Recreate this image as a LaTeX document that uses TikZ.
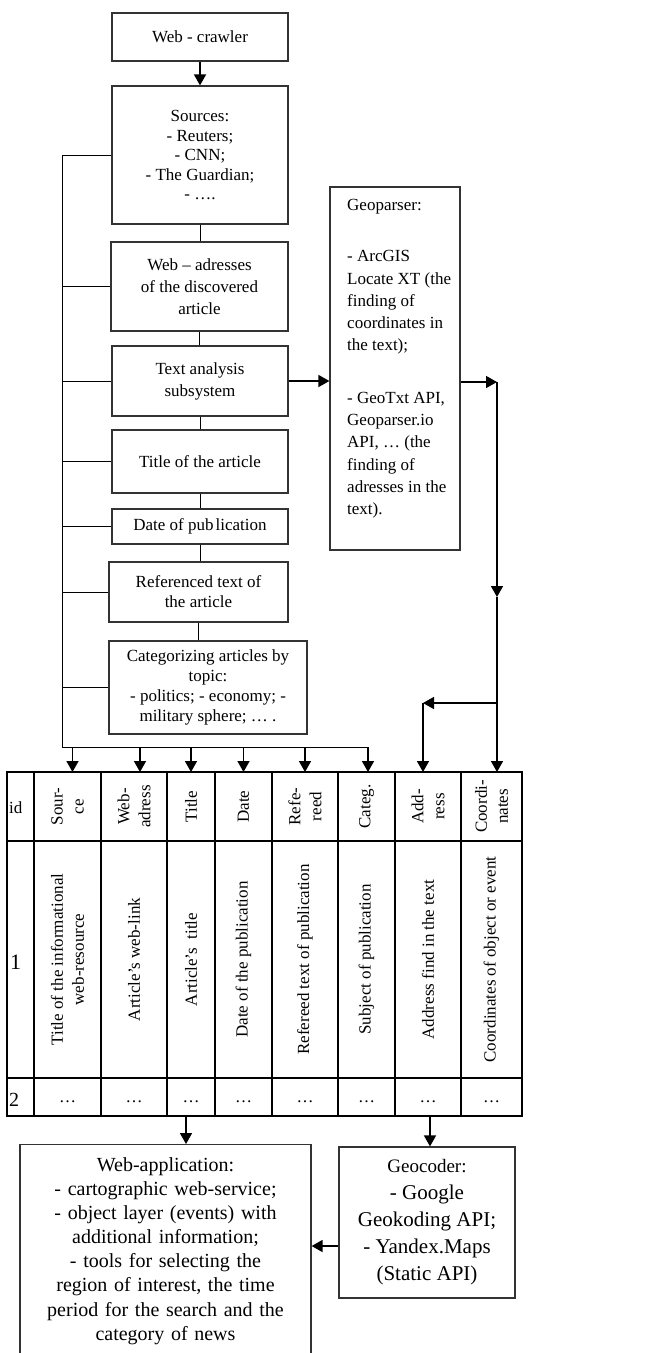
\documentclass[tikz,border=0pt]{standalone}
\usepackage{fontspec}
\setmainfont{Liberation Serif}
\usetikzlibrary{arrows.meta}

\tikzset{
  box/.style={draw=black!80, line width=1.2pt, align=center, inner sep=0pt, font=\fontsize{17}{21}\selectfont},
  arr/.style={-{Triangle[length=11pt,width=12pt]}, line width=1.6pt},
  link/.style={line width=1pt},
  tab/.style={line width=1.8pt},
  cell/.style={rotate=90, align=center, inner sep=0pt, font=\fontsize{17}{21}\selectfont}
}

\begin{document}
\begin{tikzpicture}[x=1pt,y=-1pt]
\useasboundingbox (0,0) rectangle (652,1353);

% left column of boxes
\node[box, minimum width=176, minimum height=48] (crawler) at (200,37) {Web - crawler};
\node[box, minimum width=176, minimum height=138, font=\fontsize{17}{19.5}\selectfont] (sources) at (200,155)
  {Sources:\\- Reuters;\\- CNN;\\- The Guardian;\\- \ldots.};
\node[box, minimum width=177, minimum height=89, font=\fontsize{17}{22}\selectfont] (webadr) at (199.5,286.5)
  {Web -- adresses\\of the discovered\\article};
\node[box, minimum width=176, minimum height=70, font=\fontsize{17}{22}\selectfont] (textan) at (200,381)
  {Text analysis\\subsystem};
\node[box, minimum width=176, minimum height=63] (titleb) at (200,461.5) {Title of the article};
\node[box, minimum width=176, minimum height=35] (dateb) at (200,526.5) {Date of pub\hspace{2pt}lication};
\node[box, minimum width=179, minimum height=60, font=\fontsize{17}{20}\selectfont] (refb) at (198.5,592)
  {Referenced text of\\the article};
\node[box, minimum width=198, minimum height=93, font=\fontsize{17}{20}\selectfont] (categ) at (208,687.5)
  {Categorizing articles by\\topic:\\- politics; - economy; -\\military sphere; \ldots{} .};

% geoparser
\node[box, minimum width=130, minimum height=363] (geo) at (395,368.5) {};
\node[align=left, inner sep=0pt, anchor=north west, font=\fontsize{17}{22.3}\selectfont] (geotext) at (347,199)
  {Geoparser:\\[29pt]- ArcGIS\\Locate XT (the\\finding of\\coordinates in\\the text);\\[30pt]- GeoTxt API,\\Geoparser.io\\API, \ldots{} (the\\finding of\\adresses in the\\text).};

% table
\coordinate (tabTL) at (7,772);
\coordinate (tabBL) at (7,1116);
\draw[tab] (7,772) rectangle (522,1116);
\foreach \x in {34,101,167,215,272,338,395,461}
  \draw[tab] (\x,772) -- (\x,1116);
\draw[tab] (7,841) -- (522,841) (7,1078) -- (522,1078);

\node[anchor=west, inner sep=0pt, font=\fontsize{17}{21}\selectfont] (h1) at (9,808) {id};
\node[anchor=west, inner sep=0pt, font=\fontsize{22}{22}\selectfont] (b1) at (10,962) {1};
\node[anchor=west, inner sep=0pt, font=\fontsize{20}{21}\selectfont] (d1) at (9,1100) {2};
\foreach \i/\x/\hd/\bd in {
  2/67.5/{Sour-\\ce}/{Title of the informational\\web-resource},
  3/134/{Web-\\adress}/{Article’s web-link},
  4/191/{Title}/{Article’s\enspace title},
  5/243.5/{Date}/{Date of the publication},
  6/305/{Refe-\\reed}/{Refereed text of publication},
  7/366.5/{Categ.}/{Subject of publication},
  8/428/{Add-\\ress}/{Address find in the text},
  9/491.5/{Coordi-\\nates}/{Coordinates of object or event}}
{
  \node[cell] (h\i) at (\x,806.5) {\hd};
  \node[cell] (b\i) at (\x,959.5) {\bd};
  \node[inner sep=0pt, font=\fontsize{17}{21}\selectfont] (d\i) at (\x,1102) {\ldots};
}

% bottom boxes
\node[box, minimum width=291, text width=287, inner xsep=2pt, inner ysep=13pt, anchor=north,
  font=\fontsize{20}{24.1}\selectfont] (webapp) at (165.5,1144)
  {Web-application:\\- cartographic web-service;\\- object layer (events) with\\additional information;\\- tools for selecting the\\region of interest, the time\\period for the search and the\\category of news};
\node[box, minimum width=176, minimum height=151, font=\fontsize{21}{27}\selectfont] (geocoder) at (427,1222.5)
  {{\fontsize{19}{27}\selectfont Geocoder:}\\- Google\\Geokoding API;\\- Yandex.Maps\\(Static API)};

% connectors
\draw[arr] (crawler) -- (sources);
\foreach \a/\b in {sources/webadr,webadr/textan,textan/titleb,titleb/dateb,dateb/refb,refb/categ}
  \draw[link] (\a.south) -- (\a.south |- \b.north);

\coordinate (busL) at (62,747);
\coordinate (busR) at (368,747);
\draw[link] (sources.west) -| (busL) -- (busR);
\foreach \b in {webadr,textan,titleb,dateb,refb,categ}
  \draw[link] (\b.west) -- (\b.west -| busL);
\foreach \i/\dx in {2/5,3/6,4/0,5/0,6/0,7/1.5}
  \draw[arr] ([xshift=\dx pt]h\i |- busL) -- ([xshift=\dx pt]h\i |- tabTL);

\coordinate (geoR) at (497,382);
\coordinate (geoM) at (497,597);
\coordinate (geoB) at (497,703);
\coordinate (addrB) at (423,703);
\draw[arr] (textan.east) -- (textan.east -| geo.west);
\draw[arr] (geo.east |- geoR) -- (geoR);
\draw[arr] (geoR) -- (geoM);
\draw[arr] (geoM) -- (geoM |- tabTL);
\draw[arr] (geoB) -- (addrB);
\draw[arr] (addrB) -- (addrB |- tabTL);

\coordinate (appIn) at (186,1116);
\coordinate (coderIn) at (430,1116);
\draw[arr] (appIn) -- (appIn |- webapp.north);
\draw[arr] (coderIn) -- (coderIn |- geocoder.north);
\draw[arr] (geocoder.west |- 0,1246) -- (webapp.east |- 0,1246);

\end{tikzpicture}
\end{document}
